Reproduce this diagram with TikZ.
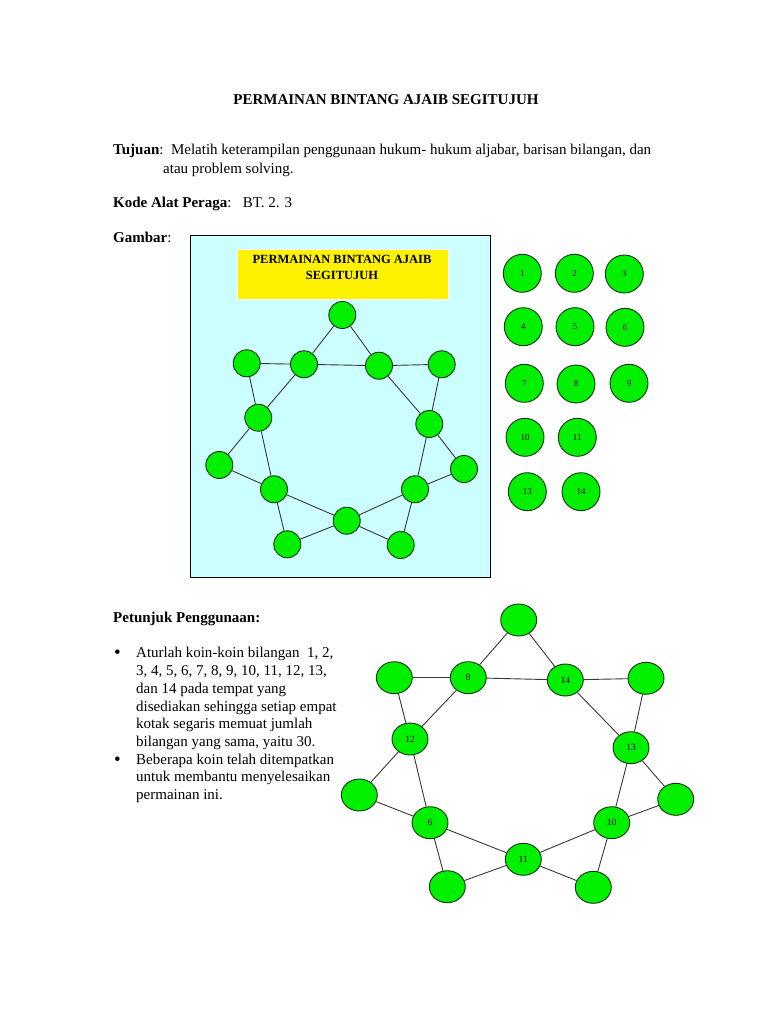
\documentclass[tikz,border=0pt]{standalone}
\usepackage{fontspec}
\setmainfont{Liberation Serif}
\usetikzlibrary{shapes.geometric}
\definecolor{coingreen}{RGB}{0,240,0}
\definecolor{coinedge}{RGB}{20,50,20}
\definecolor{boxcyan}{RGB}{204,255,255}
\definecolor{linkgray}{RGB}{55,55,55}
\tikzset{
  body/.style={anchor=base west, inner sep=0pt, font=\fontsize{15}{17.6}\selectfont},
  bul/.style={anchor=base west, inner sep=0pt, font=\fontsize{19}{17.6}\selectfont},
  starnode/.style={circle, draw=coinedge, fill=coingreen, minimum size=27pt, inner sep=0pt, line width=0.9pt},
  coin/.style={circle, draw=coinedge, fill=coingreen, minimum size=38pt, inner sep=0pt, line width=0.9pt, font=\fontsize{9}{10}\selectfont},
  bigcoin/.style={ellipse, draw=coinedge, fill=coingreen, minimum width=36pt, minimum height=32pt, inner sep=0pt, line width=0.9pt, font=\fontsize{9.5}{10}\selectfont},
  link/.style={draw=linkgray, line width=0.9pt},
  ytext/.style={anchor=base, inner sep=0pt, font=\fontsize{12.5}{16}\selectfont\bfseries}
}
\begin{document}
\begin{tikzpicture}[x=1pt,y=-1pt]
\useasboundingbox[fill=white] (0,0) rectangle (768,1024);

% header texts
\node[anchor=base, inner sep=0pt, font=\fontsize{15}{17.6}\selectfont\bfseries] (title) at (386,105) {PERMAINAN BINTANG AJAIB SEGITUJUH};
\node[body] (tuj1) at (113,155) {\textbf{Tujuan}:\ \ Melatih keterampilan penggunaan hukum- hukum aljabar, barisan bilangan, dan};
\node[body] (tuj2) at (163,174) {atau problem solving.};
\node[body] (kode) at (113,208) {\textbf{Kode Alat Peraga}:\ \ \ BT. 2. 3};
\node[body] (gamb) at (113,242) {\textbf{Gambar}:};

% picture box
\draw[fill=boxcyan, draw=black, line width=0.8pt] (190,235) rectangle (490,577);
\node[fill=yellow, draw=white, line width=1pt, minimum width=211pt, minimum height=50pt, anchor=north west, inner sep=0pt] (ybox) at (237,249) {};
\node[ytext] (yt1) at (342,263) {PERMAINAN BINTANG AJAIB};
\node[ytext] (yt2) at (342,279) {SEGITUJUH};

% upper star
\node[starnode] (u0) at (342.3,315) {};
\node[starnode] (u1) at (246.7,363.3) {};
\node[starnode] (u2) at (304,364.3) {};
\node[starnode] (u3) at (379,365.7) {};
\node[starnode] (u4) at (441.7,364.3) {};
\node[starnode] (u5) at (258.3,417.7) {};
\node[starnode] (u6) at (429.3,424) {};
\node[starnode] (u7) at (219.3,465) {};
\node[starnode] (u8) at (464,469) {};
\node[starnode] (u9) at (274,489.3) {};
\node[starnode] (u10) at (415,489.3) {};
\node[starnode] (u11) at (346.7,520.7) {};
\node[starnode] (u12) at (287.3,544.3) {};
\node[starnode] (u13) at (400.7,545) {};
\foreach \a/\b in {u1/u2,u2/u3,u3/u4, u0/u2,u2/u5,u5/u7, u0/u3,u3/u6,u6/u8,
  u1/u5,u5/u9,u9/u12, u4/u6,u6/u10,u10/u13, u7/u9,u9/u11,u11/u13, u8/u10,u10/u11,u11/u12}
  \draw[link] (\a) -- (\b);

% coins
\node[coin] (c1) at (522.3,273.3) {1};
\node[coin] (c2) at (574.3,273.3) {2};
\node[coin] (c3) at (624.3,274) {3};
\node[coin] (c4) at (523.3,326.7) {4};
\node[coin] (c5) at (575,326.7) {5};
\node[coin] (c6) at (625,327.3) {6};
\node[coin] (c7) at (524.3,383.3) {7};
\node[coin] (c8) at (576,384) {8};
\node[coin] (c9) at (629,383.3) {9};
\node[coin] (c10) at (525,437.3) {10};
\node[coin] (c11) at (577.3,437.3) {11};
\node[coin] (c13) at (527.3,491.7) {13};
\node[coin] (c14) at (581,491.7) {14};

% instructions
\node[body] (pet) at (113,622) {\textbf{Petunjuk Penggunaan:}};
\node[bul] (b1) at (114,658) {\textbullet};
\node[body] (t1a) at (136,657) {Aturlah koin-koin bilangan\ \ 1, 2,};
\node[body] (t1b) at (136,675) {3, 4, 5, 6, 7, 8, 9, 10, 11, 12, 13,};
\node[body] (t1c) at (136,693) {dan 14 pada tempat yang};
\node[body] (t1d) at (136,711) {disediakan sehingga setiap empat};
\node[body] (t1e) at (136,728.5) {kotak segaris memuat jumlah};
\node[body] (t1f) at (136,746) {bilangan yang sama, yaitu 30.};
\node[bul] (b2) at (114,765) {\textbullet};
\node[body] (t2a) at (136,764) {Beberapa koin telah ditempatkan};
\node[body] (t2b) at (136,781.5) {untuk membantu menyelesaikan};
\node[body] (t2c) at (136,799) {permainan ini.};

% lower star
\node[bigcoin] (l0) at (518.7,620) {};
\node[bigcoin] (l1) at (394.3,677.7) {};
\node[bigcoin] (l2) at (468.3,677.7) {8};
\node[bigcoin] (l3) at (565.3,680) {14};
\node[bigcoin] (l4) at (646,678.3) {};
\node[bigcoin] (l5) at (410,739) {12};
\node[bigcoin] (l6) at (631,747.7) {13};
\node[bigcoin] (l7) at (359.3,795) {};
\node[bigcoin] (l8) at (675.7,799.3) {};
\node[bigcoin] (l9) at (430,822.7) {6};
\node[bigcoin] (l10) at (611.7,822.7) {10};
\node[bigcoin] (l11) at (523.3,859.3) {11};
\node[bigcoin] (l12) at (447.3,886.7) {};
\node[bigcoin] (l13) at (593.3,887.3) {};
\foreach \a/\b in {l1/l2,l2/l3,l3/l4, l0/l2,l2/l5,l5/l7, l0/l3,l3/l6,l6/l8,
  l1/l5,l5/l9,l9/l12, l4/l6,l6/l10,l10/l13, l7/l9,l9/l11,l11/l13, l8/l10,l10/l11,l11/l12}
  \draw[link] (\a) -- (\b);
\end{tikzpicture}
\end{document}
